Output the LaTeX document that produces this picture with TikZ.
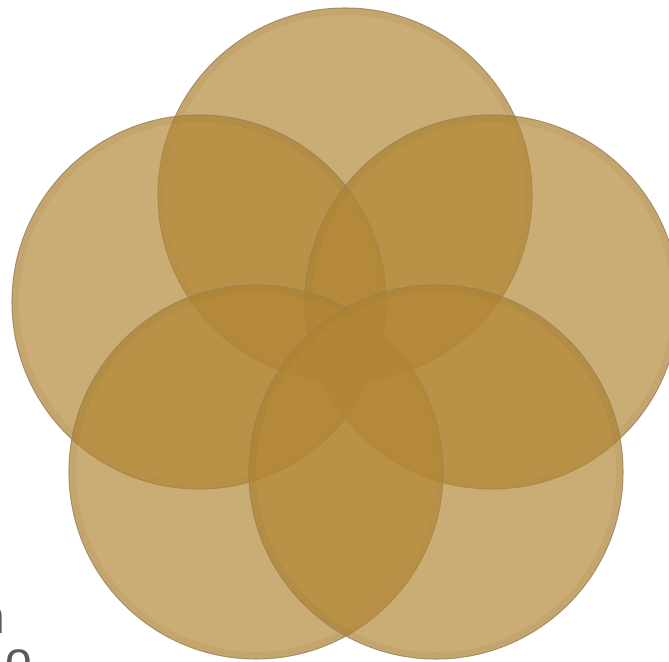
\documentclass[tikz,border=0pt]{standalone}
\usepackage{fontspec}
\setmainfont{Liberation Sans}
\definecolor{goldfill}{RGB}{178,134,52}
\definecolor{goldedge}{RGB}{150,128,80}
\definecolor{goldshade}{RGB}{140,105,40}
\definecolor{txtgray}{RGB}{88,89,91}
\tikzset{
  petal/.style={fill=goldfill, fill opacity=0.68, draw=goldedge, draw opacity=0.8, line width=0.9pt},
  petalshade/.style={draw=goldshade, draw opacity=0.10, line width=5pt},
  frag/.style={text=txtgray, inner sep=0pt, font=\fontsize{41}{41}\selectfont}
}
\begin{document}
\begin{tikzpicture}[x=0.03cm,y=0.03cm]
\useasboundingbox (0,0) rectangle (669,661);
\clip (0,0) rectangle (669,661);
\fill[white] (0,0) rectangle (669,661);
\coordinate (cT) at (345,466);
\coordinate (cL) at (199,359);
\coordinate (cR) at (492,359);
\coordinate (cBL) at (256,189);
\coordinate (cBR) at (436,189);
\foreach \c in {cT,cL,cR,cBL,cBR}{
  \path[petal] (\c) circle[radius=187];
  \path[petalshade] (\c) circle[radius=183];
}
\node[frag, anchor=base east] (t1) at (5,28) {n};
\node[frag, anchor=base west] (t2) at (5,-14) {o};
\end{tikzpicture}
\end{document}
